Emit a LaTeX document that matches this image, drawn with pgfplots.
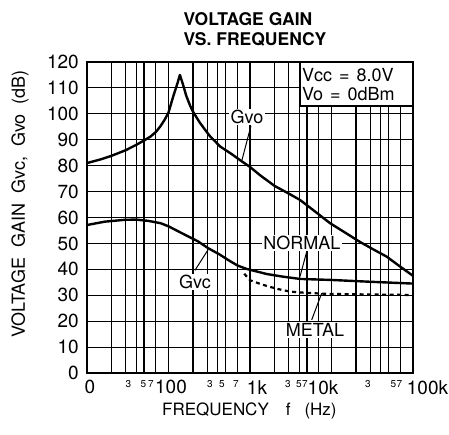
\documentclass[border=0pt]{standalone}
\usepackage{fontspec}
\setmainfont{TeX Gyre Heros}
\usepackage{pgfplots}
\pgfplotsset{compat=1.18}
\newcommand{\fs}[1]{\fontsize{#1}{#1}\selectfont}
\begin{document}
\begin{tikzpicture}
\useasboundingbox (-87pt,-61pt) rectangle (362pt,373pt);
\begin{axis}[
  scale only axis, width=326pt, height=311pt,
  xmode=log, log basis x=10,
  xmin=10, xmax=100000, ymin=0, ymax=120,
  xtick={10,100,1000,10000,100000},
  xticklabels={},
  minor xtick={20,30,40,50,70,200,300,400,500,700,2000,3000,4000,5000,7000,20000,30000,40000,50000,70000},
  xmajorgrids, xminorgrids,
  ytick={0,10,...,120}, minor ytick={0,10,...,120}, yminorgrids,
  major tick length=0pt, minor tick length=0pt,
  major grid style={black, line width=1.6pt},
  minor grid style={black, line width=1.1pt},
  axis line style={black, line width=2pt},
  tick label style={font=\fs{19}, inner sep=0pt},
  yticklabel style={anchor=east, xshift=-8pt},
  /pgf/number format/assume math mode=true,
]
% Gvo
\addplot[black, line width=2.4pt, line join=round] coordinates {
(10,81) (15,82.5) (20,83.8) (30,86) (40,88) (50,89.7) (60,91.2) (70,93)
(80,95.3) (90,97.8) (100,100.5) (115,107) (128,111.5) (138,115)
(150,111.5) (165,107) (185,103) (200,100.8) (240,96.8) (270,94.6)
(320,91.5) (430,87.4) (600,84.4) (750,82.2) (1000,79.5) (1330,76.3)
(2000,72.2) (3000,69.2) (4100,66.8) (6000,62.8) (9600,57.8) (15000,54)
(22000,50.7) (33000,47.6) (47500,44.9) (70000,41) (100000,37.5)
};
% Gvc normal
\addplot[black, line width=2.4pt, line join=round] coordinates {
(10,57.1) (16.6,58.4) (29,59.1) (40,59.2) (56.5,58.7) (80,57.8)
(100,56.6) (160,53.3) (230,50.8) (309,48.1) (420,45.8) (540,43.6)
(700,41.5) (900,40.2) (1200,39.2) (1600,38.2) (2500,37.2) (4100,36.3)
(10000,35.9) (30000,35.2) (100000,34.5)
};
% Gvc metal
\addplot[black, line width=2.2pt, dash pattern=on 4pt off 3.5pt] coordinates {
(850,38.3) (1000,35.8) (1300,34.5) (1600,33.6) (2200,32.4) (3100,31.4)
(5000,30.9) (9600,30.5) (30000,30.3) (100000,30.1)
};
% leaders
\draw[line width=1pt] (axis cs:1028,95.4) -- (axis cs:798,82.2);
\draw[line width=1pt] (axis cs:211,39.6) -- (axis cs:305,47.5);
\draw[line width=1pt] (axis cs:4963,46.8) -- (axis cs:4105,37.2);
\draw[line width=1pt] (axis cs:5716,20.5) -- (axis cs:7585,30.8);
% labels
\node[fill=white, inner sep=1.5pt, font=\fs{18}] at (axis cs:919,98.8) {Gvo};
\node[fill=white, inner sep=1.5pt, font=\fs{18}] at (axis cs:211,35.1) {Gvc};
\node[fill=white, inner sep=1.5pt, font=\fs{18}] at (axis cs:4345,50.2) {NORMAL};
\node[fill=white, inner sep=1.5pt, font=\fs{18}] at (axis cs:6280,16.6) {METAL};
% condition box
\draw[fill=white, line width=1.4pt] (rel axis cs:0.653,0.858) rectangle (rel axis cs:1,1);
\end{axis}
% x tick labels (decades large, intermediate small, as on the sheet)
\begin{scope}[every node/.style={anchor=north, inner sep=0pt}]
\node[font=\fs{19}] at (3pt,-7pt) {0};
\node[font=\fs{19}] at (84pt,-7pt) {100};
\node[font=\fs{19}] at (170pt,-7pt) {1k};
\node[font=\fs{19}] at (236pt,-7pt) {10k};
\node[font=\fs{19}] at (340.5pt,-7pt) {100k};
\node[font=\fs{10}] at (41.5pt,-7pt) {3};
\node[font=\fs{10}] at (56.5pt,-7pt) {5};
\node[font=\fs{10}] at (63.8pt,-7pt) {7};
\node[font=\fs{10}] at (123pt,-7pt) {3};
\node[font=\fs{10}] at (135pt,-7pt) {5};
\node[font=\fs{10}] at (149pt,-7pt) {7};
\node[font=\fs{10}] at (201pt,-7pt) {3};
\node[font=\fs{10}] at (212pt,-7pt) {5};
\node[font=\fs{10}] at (218pt,-7pt) {7};
\node[font=\fs{10}] at (281pt,-7pt) {3};
\node[font=\fs{10}] at (306.5pt,-7pt) {5};
\node[font=\fs{10}] at (312.5pt,-7pt) {7};
\end{scope}
\node[anchor=base west, inner sep=0pt, font=\fs{18}] at (215pt,291pt) {Vcc\hspace{7pt}=\hspace{7pt}8.0V};
\node[anchor=base west, inner sep=0pt, font=\fs{18}] at (215pt,272pt) {Vo\hspace{7pt}=\hspace{7pt}0dBm};
\node[anchor=base, inner sep=0pt, font=\bfseries\fs{17.5}] at (161pt,347pt) {VOLTAGE GAIN};
\node[anchor=base, inner sep=0pt, font=\bfseries\fs{17.5}] at (168pt,327pt) {VS. FREQUENCY};
\node[anchor=base west, inner sep=0pt, font=\fs{17}] at (75pt,-42pt) {FREQUENCY\hspace{17pt}f\hspace{14pt}(Hz)};
\node[rotate=90, anchor=base east, inner sep=0pt, font=\fs{18}] at (-62pt,303pt) {VOLTAGE\ \ GAIN\ \ Gvc,\ \ Gvo\ \ (dB)};
\end{tikzpicture}
\end{document}
